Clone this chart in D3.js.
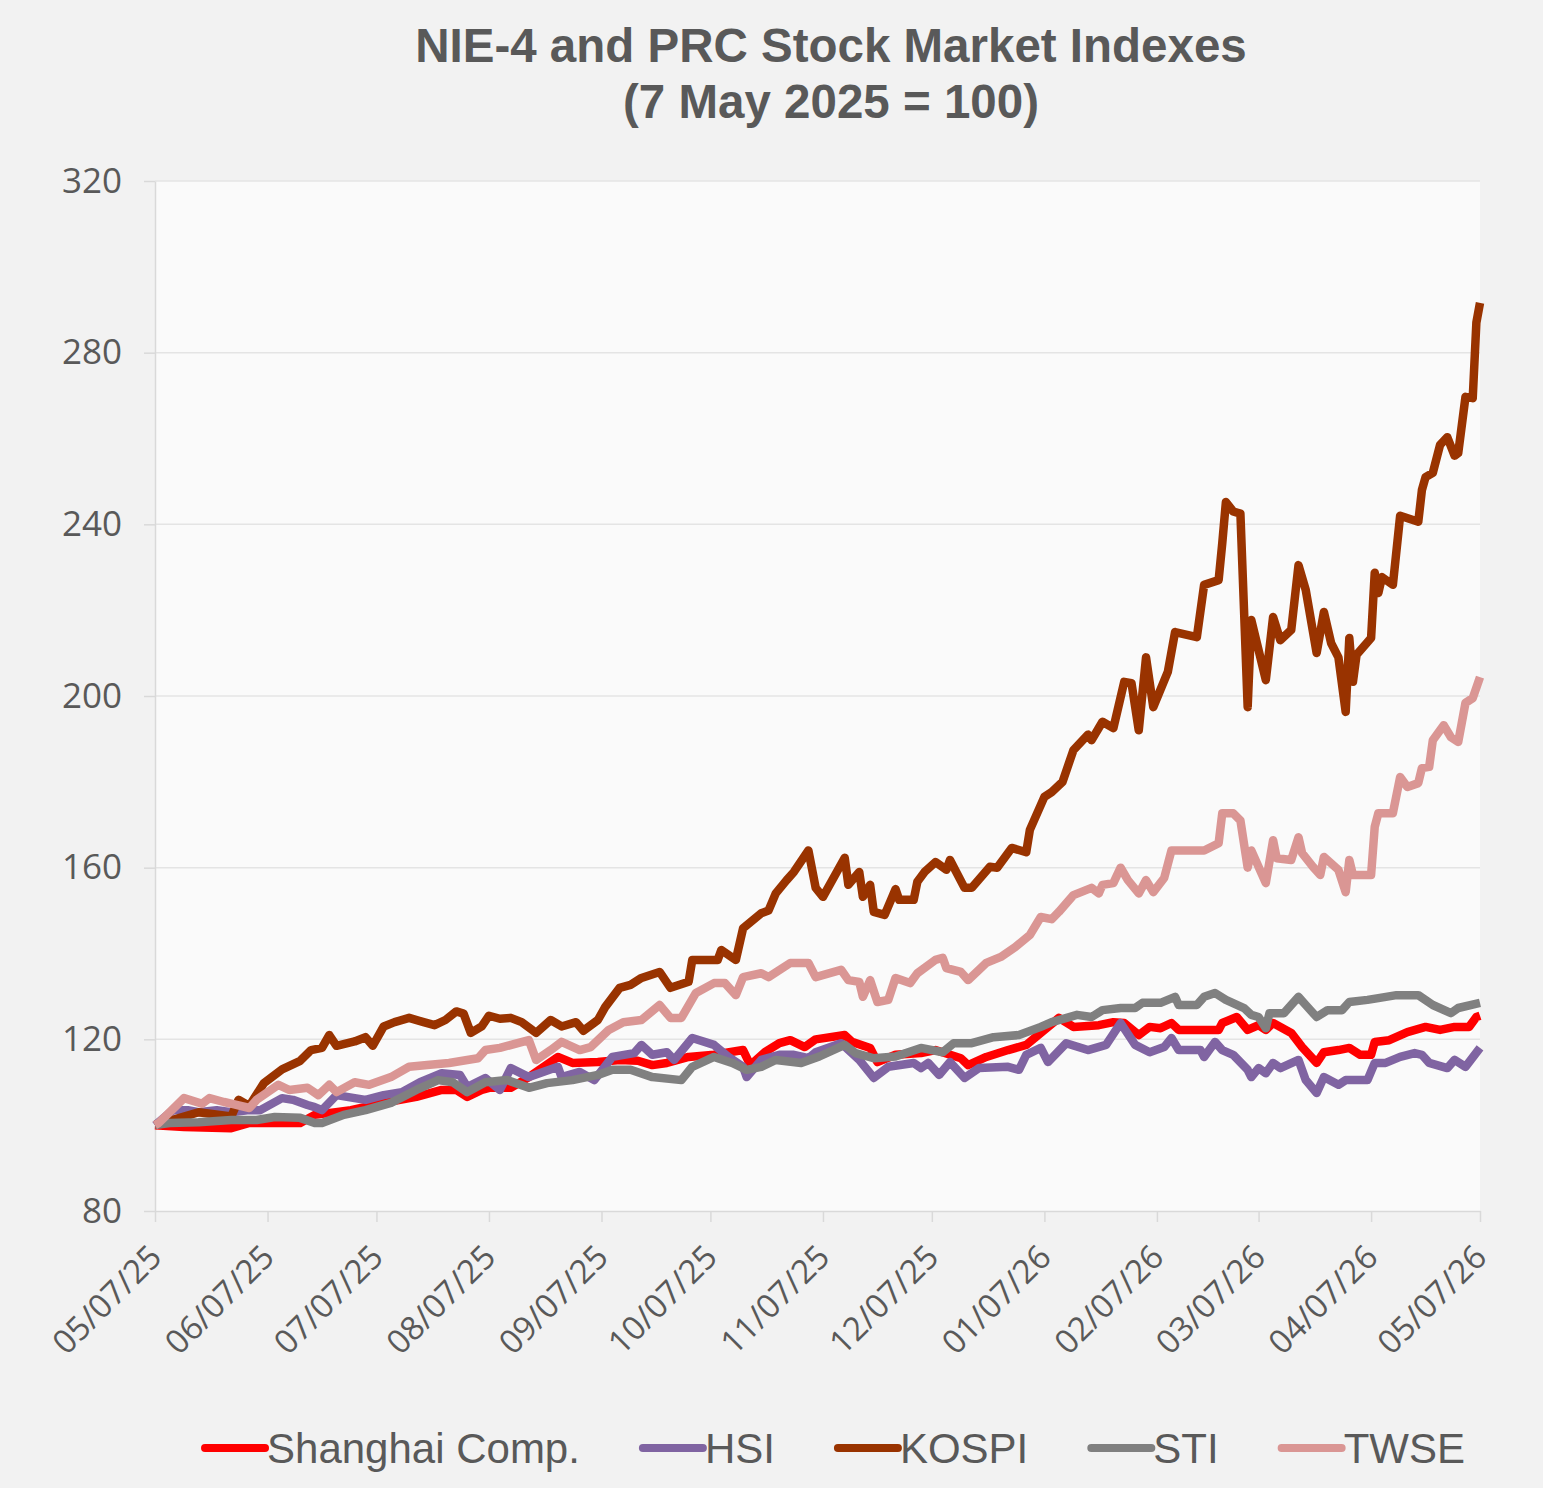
<!DOCTYPE html>
<html>
<head>
<meta charset="utf-8">
<script src="https://cdn.jsdelivr.net/npm/d3@7"></script>
<style>
  body { margin: 0; background: #F2F2F2; }
</style>
</head>
<body>
<div id="chart"></div>
<script>

// data : [days since 7 May 2025, index value]
const shanghai = [[0,100],[8,99.6],[21,99.3],[26,100.5],[40,100.5],[44,102.4],[54,103.5],[63,105.2],[72,106.6],[79,108.2],[83,108.2],[86,106.6],[90,108.2],[92,108.7],[98,108.7],[103,111.2],[111,115.9],[115,114.5],[122,114.7],[128,115.2],[133,115],[137,114],[141,114.5],[147,115.9],[154,116.4],[162,117.5],[164,114],[168,117],[172,119.1],[175,119.8],[179,118.2],[182,120],[190,121],[192,119.4],[197,118],[199,114.7],[204,116.4],[211,116.8],[215,117.5],[222,115.6],[224,114],[229,115.9],[235,117.5],[240,118.7],[244,121.5],[249,125],[253,122.9],[260,123.3],[264,124],[267,123.8],[271,121],[274,122.9],[277,122.6],[280,123.8],[282,122.2],[293,122.2],[294,123.8],[298,125.2],[301,122.2],[304,123.3],[306,122.2],[308,123.8],[313,121.5],[316,118.2],[320,114.5],[322,117],[326,117.5],[329,118],[332,116.4],[335,116.4],[336,119.4],[340,119.8],[345,121.7],[350,122.9],[354,122.2],[358,122.9],[362,122.9],[364,125.2],[365,125.5]];

const hsi = [[0,100],[5,103.5],[9,103.5],[12,103],[17,103.5],[21,103],[26,103.5],[29,103.5],[35,106.3],[38,105.9],[42,104.7],[44,104.2],[46,103.5],[50,107],[55,106.3],[58,105.9],[63,107],[68,107.7],[73,110],[79,112.1],[84,111.7],[86,108.9],[91,111],[95,108.2],[98,113.3],[103,111.2],[111,113.6],[112,111.2],[117,112.4],[121,110.5],[126,115.9],[132,116.8],[134,118.7],[137,116.4],[141,117],[143,115.2],[148,120.3],[154,118.7],[158,115.9],[162,113.6],[163,111.2],[167,115.2],[172,116.4],[176,116.4],[180,115.6],[182,117],[189,119.1],[194,115.2],[198,111],[202,113.6],[209,114.5],[211,113.3],[213,114.5],[216,111.7],[219,114.7],[223,111],[227,113.3],[235,113.6],[238,112.9],[240,116.4],[244,118],[246,114.7],[251,119.1],[257,117.5],[262,118.7],[266,123.8],[270,118.7],[274,117],[278,118.2],[280,120.3],[282,117.5],[288,117.5],[289,115.9],[292,119.4],[294,117.5],[297,116.4],[301,112.9],[302,111.2],[304,113.3],[306,112.1],[308,114.5],[310,113.3],[315,115.2],[317,110.5],[320,107.5],[322,111.2],[326,109.4],[328,110.5],[334,110.5],[336,114.5],[339,114.5],[343,115.9],[347,116.8],[349,116.4],[351,114.5],[356,113.3],[358,115.2],[361,113.6],[365,118]];

const kospi = [[0,100],[8,102],[12,103],[21,102],[23,105.9],[26,104.5],[30,109.8],[35,113],[40,115],[43,117.5],[46,118],[48,121],[50,118.5],[55,119.5],[58,120.5],[60,118.5],[63,123],[66,124],[70,125],[74,124],[77,123.3],[80,124.5],[83,126.5],[85,126],[87,121.5],[90,123],[92,125.5],[95,124.8],[98,125],[101,124],[105,121.5],[109,124.5],[112,123],[116,124],[118,122],[122,124.5],[124,127.5],[128,132],[131,132.7],[134,134.3],[139,135.7],[142,132],[147,133.4],[148,138.5],[155,138.5],[156,140.8],[160,138.5],[162,145.9],[167,149.4],[169,150],[171,154],[174,157.1],[176,159],[180,164],[182,155.3],[184,153.2],[190,162.3],[191,156],[194,159],[195,153.2],[197,156],[198,149.7],[201,149],[204,155],[205,152.5],[209,152.5],[210,156.7],[212,159],[215,161.3],[218,159.5],[219,161.8],[223,155.3],[225,155.3],[230,160.2],[232,160],[236,164.6],[240,163.6],[241,168.8],[245,176.5],[247,177.6],[250,180],[253,187.4],[257,191],[258,189.7],[261,194],[264,192.5],[267,203.3],[269,203],[271,192],[273,209],[275,197.4],[279,205.6],[281,214.9],[287,213.7],[289,225.9],[293,227],[294,235.6],[295,245.2],[297,243],[299,242.5],[301,197.4],[302,217.7],[306,203.7],[308,218.4],[310,213],[313,215.4],[315,230.5],[317,224.7],[320,210],[322,219.6],[324,212.3],[326,209],[328,196.3],[329,213.5],[330,203.3],[331,209.6],[335,213.5],[336,228.7],[337,224],[338,227.7],[341,225.9],[343,242],[348,240.6],[349,248],[350,251],[352,252],[354,258.5],[356,260.3],[358,256],[359,256.6],[361,269.7],[363,269.4],[364,287],[365,291.6]];

const sti = [[0,100],[4,100.5],[12,100.7],[21,101.2],[28,101.2],[33,101.9],[40,101.7],[44,100.5],[46,100.5],[52,102.4],[58,103.5],[65,105.2],[72,108.2],[78,110.5],[82,110],[86,107.7],[91,110],[97,110.5],[103,108.7],[108,109.8],[115,110.5],[122,111.7],[126,112.9],[131,112.9],[137,111.2],[145,110.5],[148,113.6],[154,115.9],[159,114.5],[163,112.9],[167,113.6],[171,115.2],[178,114.5],[183,116],[190,118.7],[193,116.8],[198,115.6],[204,116],[211,118],[217,117],[220,119.1],[225,119.1],[231,120.5],[238,121],[244,122.9],[247,124],[254,125.7],[258,125.2],[261,126.8],[266,127.3],[270,127.3],[272,128.5],[277,128.5],[281,129.9],[282,128],[287,128],[289,129.9],[292,130.8],[295,129.2],[300,127.3],[302,125.7],[304,125.2],[306,122.6],[307,126.1],[311,126.1],[315,129.9],[317,128],[320,125.2],[323,126.8],[327,126.8],[329,128.7],[334,129.2],[337,129.6],[342,130.3],[345,130.3],[348,130.3],[352,128],[357,126.1],[359,127.3],[365,128.5]];

const twse = [[0,100],[1,100.5],[8,106.3],[13,105],[15,106.3],[19,105.4],[21,105],[26,104],[28,105.9],[34,109.4],[37,108.2],[42,108.7],[45,107],[48,109.4],[50,107.7],[55,110],[59,109.4],[65,111.2],[70,113.6],[75,114],[81,114.5],[86,115.2],[89,115.6],[91,117.5],[95,118],[103,119.8],[105,115.2],[109,117.5],[112,119.4],[117,117.5],[120,118.2],[125,122.2],[129,124],[134,124.5],[139,128],[142,125],[145,125],[149,130.8],[154,133.1],[157,133.1],[160,130.3],[162,134.5],[167,135.4],[169,134.5],[175,137.8],[180,137.8],[182,134.5],[189,136.2],[191,133.8],[194,133.4],[195,129.9],[197,133.8],[199,128.7],[202,129.2],[204,134.3],[208,133.1],[210,135.4],[215,138.5],[217,139],[218,136.6],[222,135.7],[224,133.8],[229,137.8],[233,139.2],[237,141.5],[241,144.3],[244,148.5],[247,148],[249,149.7],[253,153.6],[258,155.3],[260,154],[261,156],[264,156.4],[266,160],[268,157.1],[271,154],[273,157.1],[275,154.3],[278,157.6],[280,164],[289,164],[293,165.7],[294,172.7],[297,172.7],[299,171],[301,160],[302,164],[306,156.4],[308,166.4],[309,162.2],[313,161.8],[315,167.1],[316,163.4],[319,160.2],[321,158.3],[322,162.5],[326,159.5],[328,154.3],[329,161.8],[330,158.3],[335,158.3],[336,169.5],[337,172.7],[341,172.7],[343,181.1],[345,178.8],[348,179.7],[349,183.2],[351,183.5],[352,189.7],[355,193.2],[357,190.4],[359,189.3],[361,198.4],[363,199.5],[365,204.4]];

const seriesNames = ["Shanghai Comp.", "HSI", "KOSPI", "STI", "TWSE"];
const seriesData = [shanghai, hsi, kospi, sti, twse];
const seriesColors = ["#FF0000", "#8064A2", "#993300", "#808080", "#DA9694"];

const yTicks = [80, 120, 160, 200, 240, 280, 320];
const xTickDates = d3.range(13).map(i => new Date(2025, 4 + i, 7));

const titleLines = ["NIE-4 and PRC Stock Market Indexes", "(7 May 2025 = 100)"];

// chart geometry
const width = 1543, height = 1488;
const margin = {top: 181, right: 63, bottom: 277, left: 155};
const baseDate = new Date(2025, 4, 7);
const endDate = new Date(2026, 4, 7);

const svg = d3.select("#chart")
  .append("svg")
  .attr("width", width)
  .attr("height", height)
  .style("display", "block");

svg.append("rect")
  .attr("width", width)
  .attr("height", height)
  .attr("fill", "#F2F2F2");

const x = d3.scaleTime()
  .domain([baseDate, endDate])
  .range([margin.left, width - margin.right]);

const y = d3.scaleLinear()
  .domain([80, 320])
  .range([height - margin.bottom, margin.top]);

// plot area
svg.append("rect")
  .attr("x", x.range()[0])
  .attr("y", y.range()[1])
  .attr("width", x.range()[1] - x.range()[0])
  .attr("height", y.range()[0] - y.range()[1])
  .attr("fill", "#FAFAFA");

// gridlines
svg.append("g")
  .selectAll("line")
  .data(yTicks.slice(1))
  .join("line")
  .attr("x1", x.range()[0])
  .attr("x2", x.range()[1])
  .attr("y1", d => y(d))
  .attr("y2", d => y(d))
  .attr("stroke", "#E4E4E4")
  .attr("stroke-width", 1.5);

// y axis
const yAxis = svg.append("g")
  .attr("transform", `translate(${margin.left},0)`)
  .call(d3.axisLeft(y).tickValues(yTicks).tickSize(11).tickPadding(22).tickSizeOuter(0));
yAxis.select(".domain").attr("stroke", "#D9D9D9").attr("stroke-width", 1.5);
yAxis.selectAll(".tick line").attr("stroke", "#D9D9D9").attr("stroke-width", 1.5);
yAxis.selectAll(".tick text")
  .attr("fill", "#595959")
  .style("font-family", "'Open Sans', 'Liberation Sans', sans-serif")
  .style("font-size", "35px");

// x axis
const xAxis = svg.append("g")
  .attr("transform", `translate(0,${y(80)})`)
  .call(d3.axisBottom(x).tickValues(xTickDates).tickSize(11).tickSizeOuter(0)
    .tickFormat(d3.timeFormat("%m/%d/%y")));
xAxis.select(".domain").attr("stroke", "#D9D9D9").attr("stroke-width", 1.5);
xAxis.selectAll(".tick line").attr("stroke", "#D9D9D9").attr("stroke-width", 1.5);
xAxis.selectAll(".tick text")
  .attr("x", 0)
  .attr("y", 0)
  .attr("dy", "0.35em")
  .attr("transform", "translate(0,40) rotate(-45)")
  .style("text-anchor", "end")
  .attr("fill", "#595959")
  .style("font-family", "'Open Sans', 'Liberation Sans', sans-serif")
  .style("font-size", "33px");

// the lines
const line = d3.line()
  .x(d => x(d3.timeDay.offset(baseDate, d[0])))
  .y(d => y(d[1]));

svg.append("g")
  .selectAll("path")
  .data(seriesData)
  .join("path")
  .attr("d", line)
  .attr("fill", "none")
  .attr("stroke", (d, i) => seriesColors[i])
  .attr("stroke-width", 8.5)
  .attr("stroke-linejoin", "round");

// title
svg.append("text")
  .attr("x", 831)
  .attr("text-anchor", "middle")
  .attr("fill", "#595959")
  .style("font-family", "'Liberation Sans', Arial, sans-serif")
  .style("font-weight", "bold")
  .style("font-size", "47.5px")
  .selectAll("tspan")
  .data(titleLines)
  .join("tspan")
  .attr("x", 831)
  .attr("y", (d, i) => 62 + i * 56)
  .text(d => d);

// legend
const legend = svg.append("g");
const items = legend.selectAll("g")
  .data(seriesNames)
  .join("g");
items.append("line")
  .attr("x1", 0).attr("x2", 60)
  .attr("y1", 1448).attr("y2", 1448)
  .attr("stroke", (d, i) => seriesColors[i])
  .attr("stroke-width", 8)
  .attr("stroke-linecap", "round");
items.append("text")
  .attr("x", 62)
  .attr("y", 1463)
  .attr("fill", "#595959")
  .style("font-family", "'Liberation Sans', Arial, sans-serif")
  .style("font-size", "42px")
  .text(d => d);

// place legend items side by side, centred
let offset = 0;
const offsets = [];
items.each(function() {
  offsets.push(offset);
  const w = d3.select(this).select("text").node().getComputedTextLength();
  offset += 62 + w + 63;
});
const total = offset - 63;
const startX = 835 - total / 2;
items.attr("transform", (d, i) => `translate(${startX + offsets[i]},0)`);

</script>
</body>
</html>
